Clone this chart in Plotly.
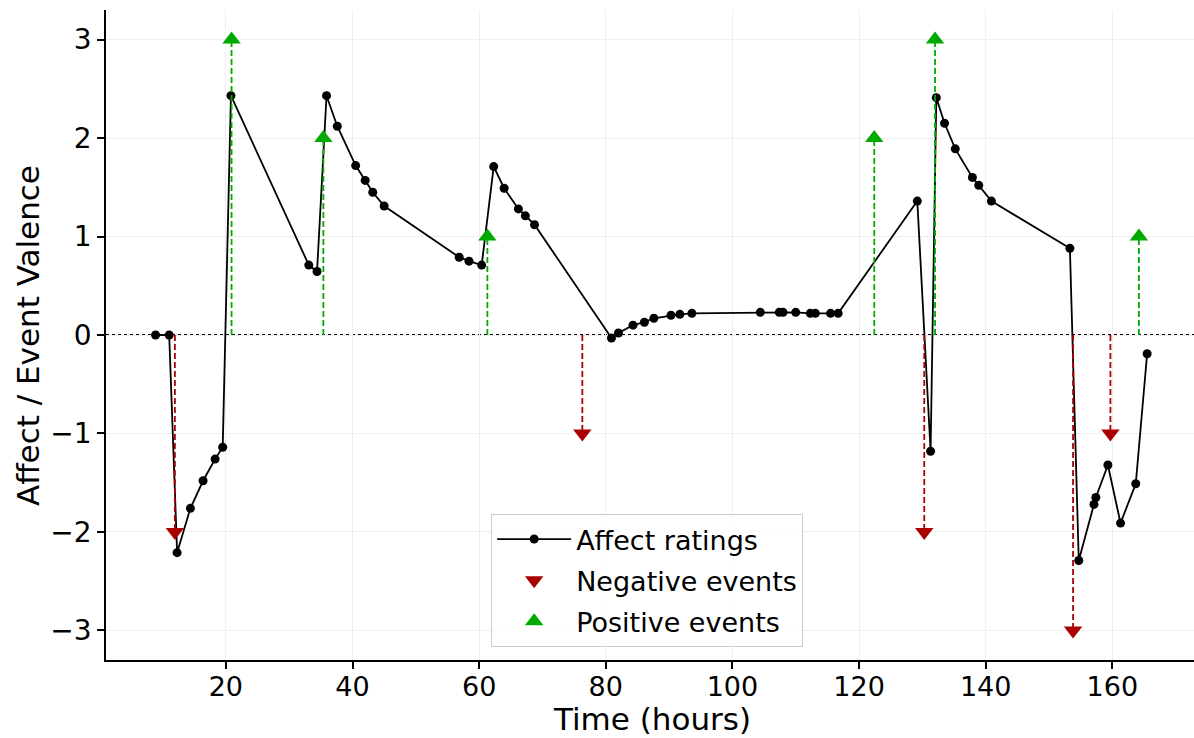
import plotly.graph_objects as go

# ---- data ----
affect_time = [8.9, 11.05, 12.3, 14.4, 16.4, 18.3, 19.5, 20.8,
               33.1, 34.4, 35.9, 37.6, 40.5, 42.0, 43.2, 45.0,
               56.85, 58.4, 60.4, 62.3, 63.95, 66.2, 67.3, 68.75,
               80.9, 82.0, 84.3, 86.1, 87.6, 90.3, 91.7, 93.6,
               104.4, 107.4, 108.0, 110.0, 112.3, 113.1, 115.5, 116.7,
               129.2, 131.3, 132.2, 133.5, 135.2, 137.9, 138.9, 140.9,
               153.3, 154.7, 157.1, 157.4, 159.3, 161.3, 163.7, 165.5]
affect_value = [0, 0, -2.21, -1.76, -1.48, -1.26, -1.14, 2.43,
                0.71, 0.645, 2.43, 2.12, 1.72, 1.57, 1.45, 1.31,
                0.79, 0.75, 0.71, 1.71, 1.49, 1.28, 1.21, 1.12,
                -0.03, 0.02, 0.10, 0.13, 0.17, 0.20, 0.21, 0.22,
                0.23, 0.23, 0.23, 0.23, 0.22, 0.22, 0.22, 0.22,
                1.36, -1.18, 2.41, 2.15, 1.89, 1.60, 1.52, 1.36,
                0.88, -2.29, -1.72, -1.65, -1.32, -1.91, -1.51, -0.19]

neg_time = [11.95, 76.3, 130.3, 153.8, 159.7]
neg_value = [-2, -1, -2, -3, -1]

pos_time = [20.9, 35.4, 61.3, 122.4, 132.0, 164.2]
pos_value = [3, 2, 1, 2, 3, 1]

x_ticks = [20, 40, 60, 80, 100, 120, 140, 160]
y_ticks = [-3, -2, -1, 0, 1, 2, 3]
y_ticktext = ["\u22123", "\u22122", "\u22121", "0", "1", "2", "3"]

RED = "#aa0000"
GREEN = "#00aa00"
FONT = "DejaVu Sans"


def stems(ts, vs):
    xs, ys = [], []
    for t, v in zip(ts, vs):
        xs += [t, t, None]
        ys += [0, v, None]
    return xs, ys


fig = go.Figure()

fig.add_trace(go.Scatter(
    x=affect_time, y=affect_value, mode="lines+markers",
    name="Affect ratings", legendgroup="a",
    line=dict(color="black", width=1.8),
    marker=dict(color="black", size=9),
))

nx, ny = stems(neg_time, neg_value)
fig.add_trace(go.Scatter(x=nx, y=ny, mode="lines", showlegend=False, legendgroup="n",
                         line=dict(color=RED, width=1.8, dash="6px,3px"),
                         hoverinfo="skip"))
px_, py_ = stems(pos_time, pos_value)
fig.add_trace(go.Scatter(x=px_, y=py_, mode="lines", showlegend=False, legendgroup="p",
                         line=dict(color=GREEN, width=1.8, dash="6px,3px"),
                         hoverinfo="skip"))

fig.add_trace(go.Scatter(
    x=neg_time, y=neg_value, mode="markers", name="Negative events", legendgroup="n",
    marker=dict(symbol="triangle-down", color=RED, size=16),
))
fig.add_trace(go.Scatter(
    x=pos_time, y=pos_value, mode="markers", name="Positive events", legendgroup="p",
    marker=dict(symbol="triangle-up", color=GREEN, size=16),
))

fig.add_shape(type="line", xref="paper", yref="y", x0=0, x1=1, y0=0, y1=0,
              line=dict(color="black", width=1.8, dash="dot"), layer="below")

fig.update_layout(
    width=1194, height=738,
    margin=dict(l=106, r=0, t=10, b=78),
    paper_bgcolor="white", plot_bgcolor="white",
    font=dict(family=FONT, size=27, color="black"),
    showlegend=True,
    legend=dict(
        x=0.354, y=0.02, xanchor="left", yanchor="bottom",
        bgcolor="rgba(255,255,255,0.85)", bordercolor="#cccccc", borderwidth=1,
        font=dict(family=FONT, size=27, color="black"),
        tracegroupgap=3, itemwidth=74, traceorder="grouped",
    ),
    xaxis=dict(
        range=[1.07, 172.9], tickvals=x_ticks,
        showgrid=True, gridcolor="#efefef", gridwidth=1,
        zeroline=False, showline=True, linecolor="black", linewidth=1.6,
        ticks="outside", ticklen=7, tickwidth=1.5, tickcolor="black",
        tickfont=dict(family=FONT, size=27, color="black"),
        ticklabelstandoff=-5,
        mirror=False,
    ),
    yaxis=dict(
        range=[-3.3, 3.3], tickvals=y_ticks, ticktext=y_ticktext,
        showgrid=True, gridcolor="#efefef", gridwidth=1,
        zeroline=False, showline=True, linecolor="black", linewidth=1.6,
        ticks="outside", ticklen=7, tickwidth=1.5, tickcolor="black",
        tickfont=dict(family=FONT, size=28, color="black"),
        mirror=False,
    ),
    annotations=[
        dict(text="Time (hours)", xref="paper", yref="paper", x=0.5014, y=-0.0908,
             xanchor="center", yanchor="middle", showarrow=False,
             font=dict(family=FONT, size=31, color="black")),
        dict(text="Affect / Event Valence", xref="paper", yref="paper", x=-0.0717, y=0.5,
             xanchor="center", yanchor="middle", showarrow=False, textangle=-90,
             font=dict(family=FONT, size=31, color="black")),
    ],
)

fig.write_html("out.html")
